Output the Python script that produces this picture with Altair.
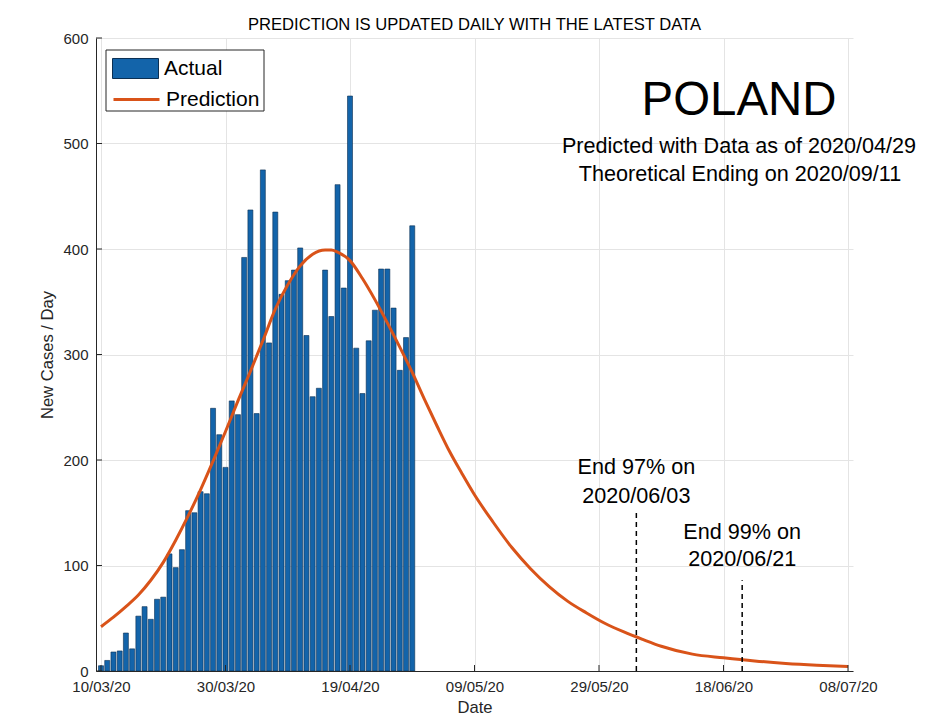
import altair as alt
import pandas as pd

# ---------------- data ----------------
start_date = "2020-03-10"
end_date = "2020-07-08"

# daily new cases, one per day starting 2020-03-10
actual_cases = [5, 10, 18, 19, 36, 21, 52, 61, 49, 68, 70, 111, 98, 115, 152, 150,
                170, 168, 249, 224, 193, 256, 243, 392, 437, 244, 475, 311, 435, 357,
                370, 380, 401, 318, 260, 268, 380, 336, 461, 363, 545, 306, 263, 313,
                342, 381, 381, 344, 285, 316, 422]

# prediction curve read at these day offsets from 2020-03-10
pred_days = [0, 2, 4, 6, 8, 10, 12, 14, 16, 18, 20, 22, 24, 26, 28, 30, 32, 34, 36, 37,
             38, 40, 42, 44, 46, 48, 50, 52, 54, 56, 58, 60, 63, 66, 69, 72, 75, 78, 81,
             84, 87, 90, 95, 100, 105, 110, 115, 120]
pred_values = [42, 51, 61, 72, 86, 103, 124, 147, 172, 199, 227, 256, 284, 313, 343, 366,
               384, 395, 399, 399, 397, 389, 372, 352, 330, 307, 283, 257, 232, 208, 187,
               167, 141, 117, 97, 80, 66, 55, 45, 37, 30, 23.5, 16, 12.5, 9.5, 7.2, 5.5, 4.2]

x_tick_dates = ["2020-03-10", "2020-03-30", "2020-04-19", "2020-05-09",
                "2020-05-29", "2020-06-18", "2020-07-08"]
y_tick_values = [0, 100, 200, 300, 400, 500, 600]

end_dates = ["2020-06-04", "2020-06-21"]
end_heights = [150, 86]
end_line1 = ["End 97% on", "End 99% on"]
end_line2 = ["2020/06/03", "2020/06/21"]
end_y1 = [192, 131]
end_y2 = [165, 105]

country = "POLAND"
info_line1 = "Predicted with Data as of 2020/04/29"
info_line2 = "Theoretical Ending on 2020/09/11"
title_text = "PREDICTION IS UPDATED DAILY WITH THE LATEST DATA"

# ---------------- tables ----------------
t0 = pd.Timestamp(start_date)


def day_str(d):
    return (t0 + pd.Timedelta(days=d)).strftime("%Y-%m-%d")


def ms(s):
    return int(pd.Timestamp(s, tz="UTC").value // 10**6)


bars_df = pd.DataFrame({
    "date": [day_str(i) for i in range(len(actual_cases))],
    "value": actual_cases,
    "s1": "Actual",
})
pred_df = pd.DataFrame({
    "date": [day_str(d) for d in pred_days],
    "value": pred_values,
    "s2": "Prediction",
})
end_df = pd.DataFrame({"date": end_dates, "value": [0, 0], "value2": end_heights})
ann_df = pd.DataFrame({
    "date": end_dates + end_dates,
    "value": end_y1 + end_y2,
    "label": end_line1 + end_line2,
})
xt_df = pd.DataFrame({"date": x_tick_dates})
yt_df = pd.DataFrame({"value": y_tick_values})

FONT = "Liberation Sans"
W, H = 757, 633
BLUE = "#1364aa"
ORANGE = "#D95319"

x_main = alt.X(
    "date:T",
    scale=alt.Scale(type="utc", domain=[ms(start_date), ms(end_date)]),
    axis=alt.Axis(
        values=[ms(d) for d in x_tick_dates],
        labelExpr="utcFormat(datum.value, '%d/%m/%y')",
        title="Date", grid=True, ticks=False, tickSize=0, labelPadding=8,
        titlePadding=5,
    ),
)
y_main = alt.Y(
    "value:Q",
    scale=alt.Scale(domain=[0, 600], nice=False),
    axis=alt.Axis(values=y_tick_values, title="New Cases / Day", grid=True,
                  ticks=False, tickSize=0, labelPadding=8, titlePadding=7),
)

bars = alt.Chart(bars_df).mark_bar(size=5, clip=True, stroke="#0b2f52",
                                   strokeWidth=0.6).encode(
    x=x_main,
    y=y_main,
    fill=alt.Fill("s1:N", scale=alt.Scale(domain=["Actual"], range=[BLUE]),
                  legend=alt.Legend(
                      orient="none", legendX=16, legendY=7, title=None,
                      labelFontSize=21, labelFont=FONT, labelColor="#000000",
                      symbolType="M-1,-0.435H1V0.435H-1Z", symbolSize=2116,
                      symbolStrokeColor="#0b2f52", symbolStrokeWidth=1,
                      symbolOpacity=1, padding=0, labelOffset=5)),
)

pred = alt.Chart(pred_df).mark_line(interpolate="monotone", strokeWidth=3,
                                    clip=True).encode(
    x="date:T",
    y="value:Q",
    stroke=alt.Stroke("s2:N", scale=alt.Scale(domain=["Prediction"], range=[ORANGE]),
                      legend=alt.Legend(
                          orient="none", legendX=16, legendY=37, title=None,
                          labelFontSize=21, labelFont=FONT, labelColor="#000000",
                          symbolType="stroke", symbolSize=2116, symbolStrokeWidth=3,
                          padding=0, labelOffset=5)),
)

end_rules = alt.Chart(end_df).mark_rule(color="#000000", strokeWidth=1.5,
                                        strokeDash=[5, 4]).encode(
    x="date:T", y="value:Q", y2="value2:Q")

end_text = alt.Chart(ann_df).mark_text(font=FONT, fontSize=21.6, color="#000000",
                                       baseline="middle", align="center").encode(
    x="date:T", y="value:Q", text="label:N")

x_ticks = alt.Chart(xt_df).mark_rule(color="#262626", strokeWidth=1).encode(
    x="date:T", y=alt.value(H), y2=alt.value(H - 6))
y_ticks = alt.Chart(yt_df).mark_rule(color="#262626", strokeWidth=1).encode(
    y="value:Q", x=alt.value(0), x2=alt.value(6))

one = pd.DataFrame({"k": [0]})
legend_box = alt.Chart(one).mark_rect(fill="white", stroke="#262626",
                                      strokeWidth=1).encode(
    x=alt.value(10), x2=alt.value(168), y=alt.value(12), y2=alt.value(73))

t_country = alt.Chart(one).mark_text(font=FONT, fontSize=47.4, color="#000000",
                                     align="center", baseline="middle",
                                     text=country).encode(
    x=alt.value(643), y=alt.value(63))
t_info1 = alt.Chart(one).mark_text(font=FONT, fontSize=21.6, color="#000000",
                                   align="center", baseline="middle",
                                   text=info_line1).encode(
    x=alt.value(643), y=alt.value(109))
t_info2 = alt.Chart(one).mark_text(font=FONT, fontSize=21.6, color="#000000",
                                   align="center", baseline="middle",
                                   text=info_line2).encode(
    x=alt.value(644), y=alt.value(137))

chart = alt.layer(
    bars, pred, end_rules, end_text, x_ticks, y_ticks, legend_box,
    t_country, t_info1, t_info2,
).properties(
    width=W, height=H,
    title=alt.TitleParams(title_text, fontSize=16.6, fontWeight="normal", font=FONT,
                          color="#000000", anchor="middle", offset=-3),
    autosize=alt.AutoSizeParams(type="none"),
    padding={"left": 88, "top": 30, "right": 66, "bottom": 50},
).configure_view(
    stroke=None
).configure_axis(
    labelFont=FONT, labelFontSize=15, labelColor="#262626",
    titleFont=FONT, titleFontSize=16.6, titleColor="#262626", titleFontWeight="normal",
    gridColor="#e4e4e4", gridWidth=1, domainColor="#262626", domainWidth=1,
)

chart.save("out.html", embed_options={"renderer": "svg", "actions": False})
